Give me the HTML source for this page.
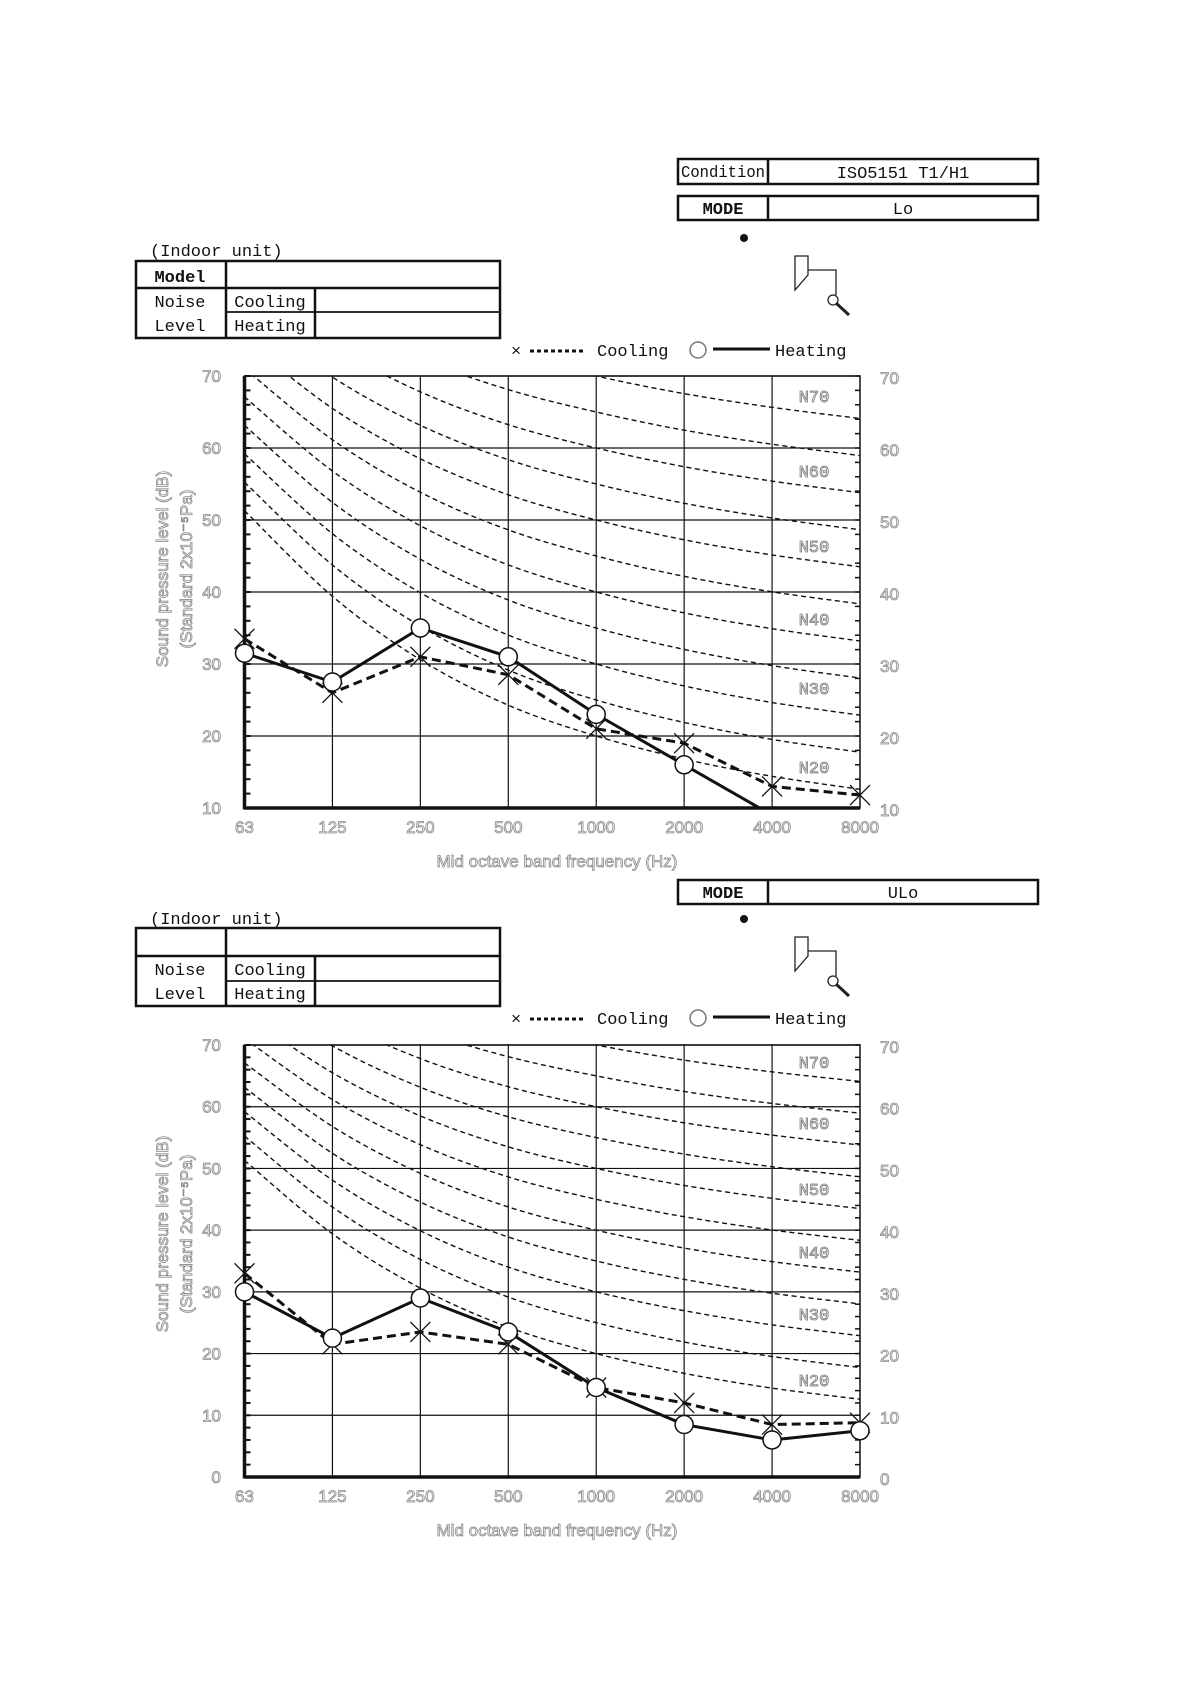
<!DOCTYPE html>
<html><head><meta charset="utf-8">
<style>
html,body{margin:0;padding:0;background:#fff;}
svg{display:block;}
.t{font-family:"Liberation Mono","Noto Sans CJK JP",monospace;font-size:17px;fill:#111;}
.g{font-family:"Liberation Sans",sans-serif;font-size:17px;fill:#fff;stroke:#888;stroke-width:0.8;}
.nl{font-family:"Liberation Mono",monospace;font-size:17px;fill:#fff;stroke:#777;stroke-width:0.8;}
</style></head>
<body>
<svg id="s" width="1191" height="1684" viewBox="0 0 1191 1684" xmlns="http://www.w3.org/2000/svg">
<g fill="none" stroke="#111" stroke-width="2.5">
<rect x="678" y="159" width="360" height="25"/>
<line x1="768" y1="159" x2="768" y2="184"/>
<rect x="678" y="196" width="360" height="24"/>
<line x1="768" y1="196" x2="768" y2="220"/>
<rect x="678" y="880" width="360" height="24"/>
<line x1="768" y1="880" x2="768" y2="904"/>
</g>
<text class="t" x="723" y="177" text-anchor="middle" font-size="15" textLength="84" lengthAdjust="spacingAndGlyphs">Condition</text>
<text class="t" x="903" y="178" text-anchor="middle">ISO5151 T1/H1</text>
<text class="t" x="723" y="214" text-anchor="middle" font-weight="bold">MODE</text>
<text class="t" x="903" y="214" text-anchor="middle">Lo</text>
<text class="t" x="723" y="898" text-anchor="middle" font-weight="bold">MODE</text>
<text class="t" x="903" y="898" text-anchor="middle">ULo</text>
<circle cx="744" cy="238" r="4" fill="#111"/>
<circle cx="744" cy="919" r="4" fill="#111"/>
<g id="icon" fill="none" stroke="#222" stroke-width="1.3">
<path d="M795 256 H808 V275 L795 290 Z"/>
<path d="M808 270 H836 V295"/>
<circle cx="833" cy="300" r="5"/>
<line x1="836" y1="303" x2="849" y2="315" stroke-width="3"/>
</g>
<use href="#icon" transform="translate(0,681)"/>
<g fill="none" stroke="#111" stroke-width="2.5">
<rect x="136" y="261" width="364" height="77"/>
<line x1="136" y1="288" x2="500" y2="288"/>
<line x1="226" y1="261" x2="226" y2="338"/>
<line x1="315" y1="288" x2="315" y2="338"/>
<line x1="226" y1="312" x2="500" y2="312" stroke-width="1.8"/>
<rect x="136" y="928" width="364" height="78"/>
<line x1="136" y1="956" x2="500" y2="956"/>
<line x1="226" y1="928" x2="226" y2="1006"/>
<line x1="315" y1="956" x2="315" y2="1006"/>
<line x1="226" y1="981" x2="500" y2="981" stroke-width="1.8"/>
</g>
<text class="t" x="150" y="256">(Indoor unit)</text>
<text class="t" x="180" y="282" text-anchor="middle" font-weight="bold">Model</text>
<text class="t" x="180" y="307" text-anchor="middle">Noise</text>
<text class="t" x="180" y="331" text-anchor="middle">Level</text>
<text class="t" x="270" y="307" text-anchor="middle">Cooling</text>
<text class="t" x="270" y="331" text-anchor="middle">Heating</text>
<text class="t" x="150" y="924">(Indoor unit)</text>
<text class="t" x="180" y="975" text-anchor="middle">Noise</text>
<text class="t" x="180" y="999" text-anchor="middle">Level</text>
<text class="t" x="270" y="975" text-anchor="middle">Cooling</text>
<text class="t" x="270" y="999" text-anchor="middle">Heating</text>
<g id="leg">
<text class="t" x="511" y="356" font-size="18">×</text>
<line x1="530" y1="351" x2="583" y2="351" stroke="#111" stroke-width="3" stroke-dasharray="4,3"/>
<text class="t" x="597" y="356" font-size="19">Cooling</text>
<circle cx="698" cy="350" r="8" fill="none" stroke="#777" stroke-width="1.5"/>
<line x1="713" y1="349" x2="770" y2="349" stroke="#111" stroke-width="3"/>
<text class="t" x="775" y="356" font-size="19">Heating</text>
</g>
<use href="#leg" transform="translate(0,668)"/>
<g id="charts"></g>
</svg>
<script>
const NS="http://www.w3.org/2000/svg";
const root=document.getElementById('charts');
function el(tag,attrs,txt){const e=document.createElementNS(NS,tag);for(const k in attrs)e.setAttribute(k,attrs[k]);if(txt!==undefined)e.textContent=txt;root.appendChild(e);return e;}
const A=[35.5,22,12,4.8,0,-3.5,-6.1,-8.0],B=[0.79,0.87,0.93,0.974,1,1.015,1.025,1.03];
const F=["63","125","250","500","1000","2000","4000","8000"];
function chart(cfg,idx){
 const L=244.5,R=860,dx=(R-L)/7,T=cfg.top,Bt=cfg.bot,mn=cfg.min,mx=70;
 const X=i=>L+i*dx, Y=v=>Bt-(v-mn)/(mx-mn)*(Bt-T);
 const cid='c'+idx;
 const cp=document.createElementNS(NS,'clipPath');cp.setAttribute('id',cid);
 const r=document.createElementNS(NS,'rect');r.setAttribute('x',L);r.setAttribute('y',T);r.setAttribute('width',R-L);r.setAttribute('height',Bt-T);cp.appendChild(r);root.appendChild(cp);
 for(let v=mn;v<=mx;v+=10) el('line',{x1:L,x2:R,y1:Y(v),y2:Y(v),stroke:'#111','stroke-width':1.2});
 for(let i=1;i<7;i++) el('line',{x1:X(i),x2:X(i),y1:T,y2:Bt,stroke:'#111','stroke-width':1.2});
 el('rect',{x:L,y:T,width:R-L,height:Bt-T,fill:'none',stroke:'#111','stroke-width':1.5});
 el('line',{x1:L,x2:L,y1:T,y2:Bt+1.5,stroke:'#111','stroke-width':3.5});
 el('line',{x1:L,x2:R,y1:Bt,y2:Bt,stroke:'#111','stroke-width':3.5});
 for(let v=mn;v<=mx;v+=2){el('line',{x1:L,x2:L+6,y1:Y(v),y2:Y(v),stroke:'#111','stroke-width':2});el('line',{x1:R-5,x2:R,y1:Y(v),y2:Y(v),stroke:'#111','stroke-width':1.5});}
 const g=el('g',{'clip-path':'url(#'+cid+')'});
 for(let N=20;N<=70;N+=5){
  const pts=A.map((a,i)=>[X(i),Y(a+B[i]*N)]);
  let d='M'+pts[0][0]+' '+pts[0][1];
  for(let i=0;i<7;i++){const p0=pts[Math.max(i-1,0)],p1=pts[i],p2=pts[i+1],p3=pts[Math.min(i+2,7)];
   const c1=[p1[0]+(p2[0]-p0[0])/6,p1[1]+(p2[1]-p0[1])/6],c2=[p2[0]-(p3[0]-p1[0])/6,p2[1]-(p3[1]-p1[1])/6];
   d+=' C'+c1.join(' ')+' '+c2.join(' ')+' '+p2.join(' ');}
  const p=document.createElementNS(NS,'path');p.setAttribute('d',d);p.setAttribute('fill','none');p.setAttribute('stroke','#111');p.setAttribute('stroke-width','1.4');p.setAttribute('stroke-dasharray','5,3.5');g.appendChild(p);
 }
 for(let v=mn;v<=mx;v+=10){el('text',{class:'g',x:221,y:Y(v)+6,'text-anchor':'end'},String(v));el('text',{class:'g',x:880,y:Y(v)+8},String(v));}
 F.forEach((f,i)=>el('text',{class:'g',x:X(i),y:Bt+25,'text-anchor':'middle'},f));
 el('text',{class:'g',x:557,y:Bt+59,'text-anchor':'middle','font-size':19},'Mid octave band frequency  (Hz)');
 const cy=(T+Bt)/2+cfg.off;
 el('text',{class:'g',transform:`translate(168,${cy}) rotate(-90)`,'text-anchor':'middle','font-size':20},'Sound pressure level (dB)');
 el('text',{class:'g',transform:`translate(192,${cy}) rotate(-90)`,'text-anchor':'middle','font-size':20},'(Standard 2x10⁻⁵Pa)');
 cfg.nl.forEach((y,k)=>el('text',{class:'nl',x:814,y:y+6,'text-anchor':'middle'},'N'+(70-10*k)));
 const g2=el('g',{'clip-path':'url(#'+cid+')'});
 const mk=(tag,a)=>{const e=document.createElementNS(NS,tag);for(const k in a)e.setAttribute(k,a[k]);g2.appendChild(e);return e;};
 mk('polyline',{points:cfg.c.map((v,i)=>X(i)+','+Y(v)).join(' '),fill:'none',stroke:'#111','stroke-width':3,'stroke-dasharray':'9,5'});
 mk('polyline',{points:cfg.h.map((v,i)=>X(i)+','+Y(v)).join(' '),fill:'none',stroke:'#111','stroke-width':3});
 cfg.c.forEach((v,i)=>{const x=X(i),y=Y(v);if(v<mn)return;el('path',{d:`M${x-10} ${y-10}L${x+10} ${y+10}M${x-10} ${y+10}L${x+10} ${y-10}`,stroke:'#111','stroke-width':1.3});});
 cfg.h.forEach((v,i)=>{if(v<mn)return;el('circle',{cx:X(i),cy:Y(v),r:9,fill:'#fff',stroke:'#111','stroke-width':1.5});});
}
chart({top:376,bot:808,min:10,off:-23,c:[33.5,26,31,28.5,21,19,13,11.8],h:[31.5,27.5,35,31,23,16,9,5],nl:[396,471,546,619,688,767]},1);
chart({top:1045,bot:1477,min:0,off:-27,c:[33,21.5,23.5,21.5,14.5,12,8.5,8.8],h:[30,22.5,29,23.5,14.5,8.5,6,7.5],nl:[1062,1123,1189,1252,1314,1380]},2);
</script>
</body></html>
